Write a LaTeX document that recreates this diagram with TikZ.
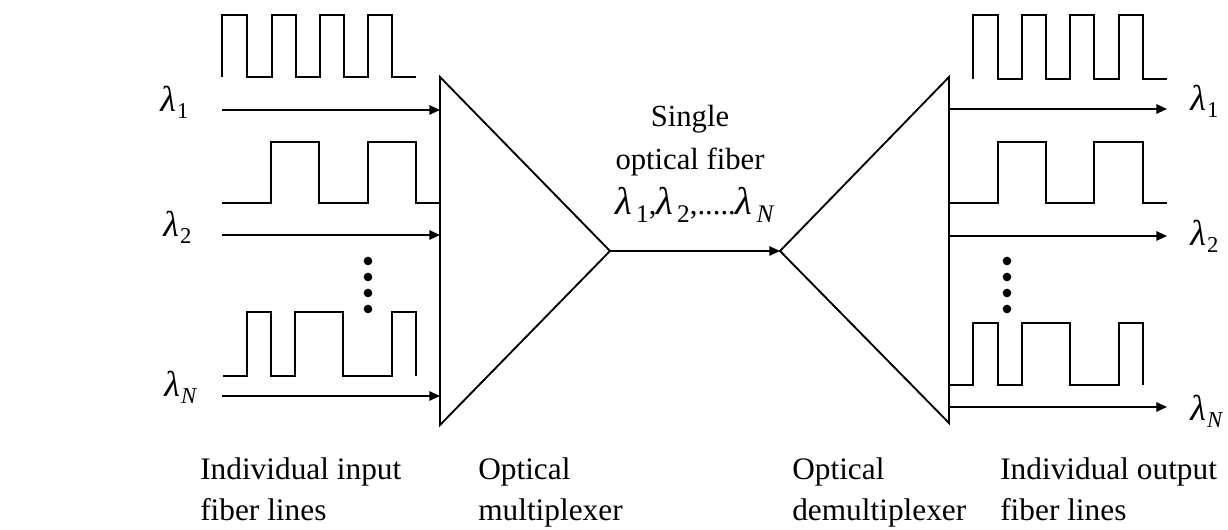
\documentclass[tikz,border=0pt]{standalone}
\usepackage{fontspec}
\setmainfont{Liberation Serif}
\usetikzlibrary{arrows.meta}
\newcommand{\lamS}[1]{{\fontsize{27pt}{27pt}\selectfont\itshape λ}\kern1pt\raisebox{-5pt}{\fontsize{17pt}{17pt}\selectfont #1}}
\newcommand{\lamC}[1]{{\fontsize{29pt}{29pt}\selectfont\itshape λ}\kern3pt\raisebox{-6pt}{\fontsize{19pt}{19pt}\selectfont #1}}
\tikzset{
  wire/.style={line width=1.4pt},
  sig/.style={line width=1.4pt},
  arr/.style={line width=1.4pt,-{Triangle[length=8pt,width=7pt]}},
  lbl/.style={inner sep=0pt,anchor=base west,font=\fontsize{23.5pt}{28pt}\selectfont},
  ctr/.style={inner sep=0pt,anchor=base,font=\fontsize{23pt}{28pt}\selectfont},
  lam/.style={inner sep=0pt,anchor=base west},
  vdot/.style={fill=black,draw=none,circle,minimum size=6.5pt,inner sep=0pt}
}
\begin{document}
\begin{tikzpicture}[x=0.75pt,y=-0.75pt]
\useasboundingbox (0,0) rectangle (1228,530);
% multiplexer
\coordinate (mt) at (440,77);
\coordinate (mb) at (440,425);
\coordinate (ma) at (610,251);
\draw[wire] (mt) -- (ma) -- (mb) -- cycle;
% demultiplexer
\coordinate (dt) at (949,77);
\coordinate (db) at (949,423);
\coordinate (da) at (780,251);
\draw[wire] (dt) -- (da) -- (db) -- cycle;
% fiber
\draw[arr] (ma) -- (da);
% input arrows
\coordinate (i1) at (222,110); \coordinate (i1e) at (440,110);
\coordinate (i2) at (222,235); \coordinate (i2e) at (440,235);
\coordinate (iN) at (222,396); \coordinate (iNe) at (440,396);
\draw[arr] (i1) -- (i1e);
\draw[arr] (i2) -- (i2e);
\draw[arr] (iN) -- (iNe);
% output arrows
\coordinate (o1) at (949,109); \coordinate (o1e) at (1167,109);
\coordinate (o2) at (949,236); \coordinate (o2e) at (1167,236);
\coordinate (oN) at (949,407); \coordinate (oNe) at (1167,407);
\draw[arr] (o1) -- (o1e);
\draw[arr] (o2) -- (o2e);
\draw[arr] (oN) -- (oNe);
% input pulse trains
\draw[sig] (222,77) -- (222,15) -- (247,15) -- (247,77) -- (272,77) -- (272,15) -- (296,15) -- (296,77) -- (320,77) -- (320,15) -- (344,15) -- (344,77) -- (368,77) -- (368,15) -- (392,15) -- (392,77) -- (416,77);
\draw[sig] (222,203) -- (271,203) -- (271,142) -- (319,142) -- (319,203) -- (368,203) -- (368,142) -- (416,142) -- (416,203) -- (440,203);
\draw[sig] (223,376) -- (247,376) -- (247,312) -- (271,312) -- (271,376) -- (295,376) -- (295,312) -- (343,312) -- (343,376) -- (392,376) -- (392,312) -- (416,312) -- (416,376);
% output pulse trains
\draw[sig] (973,79) -- (973,15) -- (998,15) -- (998,79) -- (1022,79) -- (1022,15) -- (1046,15) -- (1046,79) -- (1070,79) -- (1070,15) -- (1094,15) -- (1094,79) -- (1119,79) -- (1119,15) -- (1143,15) -- (1143,79) -- (1167,79);
\draw[sig] (949,203) -- (998,203) -- (998,142) -- (1046,142) -- (1046,203) -- (1094,203) -- (1094,142) -- (1143,142) -- (1143,203) -- (1167,203);
\draw[sig] (949,385) -- (973,385) -- (973,323) -- (998,323) -- (998,385) -- (1022,385) -- (1022,323) -- (1070,323) -- (1070,385) -- (1119,385) -- (1119,323) -- (1143,323) -- (1143,385);
% vertical dots
\foreach \y [count=\k] in {261,277,293,309} {
  \node[vdot] (ld\k) at (368,\y) {};
  \node[vdot] (rd\k) at (1007,\y) {};
}
% lambda labels
\node[lam] (l1) at (160,112) {\lamS{1}};
\node[lam] (l2) at (163,237) {\lamS{2}};
\node[lam] (lN) at (164,397) {\lamS{\textit{N}}};
\node[lam] (r1) at (1190,111) {\lamS{1}};
\node[lam] (r2) at (1190,246) {\lamS{2}};
\node[lam] (rN) at (1190,421) {\lamS{\textit{N}}};
% center text
\node[ctr] (c1) at (690,127) {Single};
\node[ctr] (c2) at (690,170) {optical fiber};
\node[ctr] (c3) at (695,215) {\lamC{1},\lamC{2},.....\lamC{\textit{N}}};
% bottom labels
\node[lbl] (b1a) at (200,480) {Individual input};
\node[lbl] (b1b) at (200,521) {fiber lines};
\node[lbl] (b2a) at (478,480) {Optical};
\node[lbl] (b2b) at (478,521) {multiplexer};
\node[lbl] (b3a) at (792,480) {Optical};
\node[lbl] (b3b) at (792,521) {demultiplexer};
\node[lbl] (b4a) at (1000,480) {Individual output};
\node[lbl] (b4b) at (1000,521) {fiber lines};
\end{tikzpicture}
\end{document}
